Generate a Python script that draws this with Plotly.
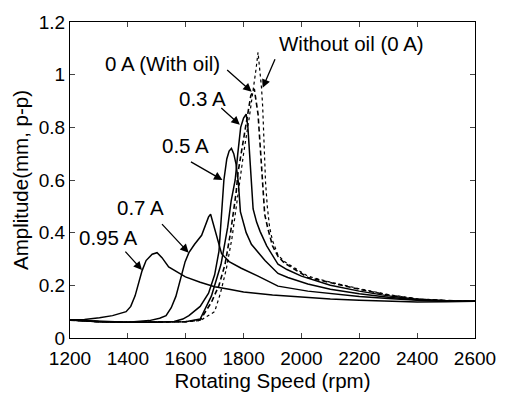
import plotly.graph_objects as go

# ---- data ----
x_095 = [1200, 1250, 1302, 1347, 1394, 1410, 1425, 1438, 1449, 1463, 1484, 1501, 1518, 1541, 1570, 1599,
         1650, 1700, 1750, 1800, 1900, 2000, 2100, 2200, 2300, 2400, 2500, 2600]
y_095 = [0.068, 0.07, 0.077, 0.085, 0.1, 0.12, 0.16, 0.21, 0.255, 0.294, 0.318, 0.324, 0.305, 0.27, 0.25, 0.232,
         0.212, 0.195, 0.185, 0.175, 0.163, 0.155, 0.148, 0.143, 0.14, 0.137, 0.138, 0.14]

x_07 = [1200, 1300, 1400, 1474, 1510, 1532, 1550, 1566, 1583, 1598, 1611, 1630, 1655, 1670, 1679, 1686, 1696,
        1710, 1724, 1750, 1792, 1850, 1919, 2022, 2100, 2200, 2300, 2400, 2500, 2600]
y_07 = [0.068, 0.063, 0.06, 0.066, 0.075, 0.085, 0.115, 0.158, 0.23, 0.29, 0.324, 0.355, 0.39, 0.43, 0.46, 0.47, 0.43,
        0.37, 0.32, 0.29, 0.265, 0.235, 0.197, 0.178, 0.168, 0.158, 0.15, 0.143, 0.14, 0.14]

x_05 = [1200, 1300, 1400, 1500, 1560, 1590, 1611, 1650, 1679, 1700, 1715, 1725, 1732, 1742, 1750, 1758, 1766,
        1774, 1782, 1789, 1809, 1827, 1874, 1919, 1953, 2022, 2100, 2200, 2300, 2400, 2500, 2600]
y_05 = [0.068, 0.062, 0.06, 0.06, 0.063, 0.072, 0.085, 0.12, 0.17, 0.24, 0.33, 0.47, 0.6, 0.68, 0.71, 0.72, 0.7,
        0.66, 0.59, 0.48, 0.4, 0.356, 0.294, 0.245, 0.23, 0.205, 0.185, 0.168, 0.155, 0.145, 0.141, 0.14]

x_03 = [1200, 1300, 1400, 1500, 1600, 1650, 1689, 1722, 1745, 1757, 1771, 1780, 1790, 1800, 1809, 1815, 1820,
        1826, 1833, 1845, 1857, 1880, 1919, 1950, 2000, 2100, 2200, 2300, 2400, 2500, 2600]
y_03 = [0.068, 0.062, 0.06, 0.06, 0.062, 0.072, 0.16, 0.28, 0.42, 0.52, 0.6, 0.7, 0.8, 0.835, 0.85, 0.8, 0.7,
        0.59, 0.49, 0.44, 0.405, 0.35, 0.28, 0.26, 0.235, 0.2, 0.178, 0.16, 0.147, 0.141, 0.14]

x_0oil = [1200, 1300, 1400, 1500, 1600, 1650, 1689, 1715, 1736, 1755, 1774, 1781, 1795, 1804, 1815, 1825, 1837,
          1850, 1858, 1866, 1873, 1883, 1900, 1919, 1941, 2022, 2100, 2200, 2300, 2400, 2500, 2600]
y_0oil = [0.068, 0.062, 0.06, 0.06, 0.062, 0.068, 0.136, 0.2, 0.28, 0.4, 0.55, 0.63, 0.72, 0.78, 0.86, 0.92, 0.946,
          0.85, 0.72, 0.59, 0.47, 0.42, 0.35, 0.31, 0.285, 0.23, 0.21, 0.185, 0.163, 0.148, 0.142, 0.14]

x_nooil = [1200, 1300, 1400, 1500, 1600, 1650, 1700, 1720, 1740, 1760, 1780, 1800, 1820, 1835, 1843, 1850,
           1857, 1862, 1866, 1870, 1876, 1882, 1890, 1900, 1919, 1941, 2022, 2100, 2200, 2300, 2400, 2500, 2600]
y_nooil = [0.068, 0.062, 0.06, 0.06, 0.062, 0.066, 0.1, 0.17, 0.26, 0.38, 0.55, 0.7, 0.84, 0.95, 1.02, 1.085,
           1.02, 0.95, 0.88, 0.75, 0.59, 0.5, 0.42, 0.37, 0.315, 0.29, 0.235, 0.212, 0.187, 0.165, 0.149, 0.142, 0.14]

x_ticks = [1200, 1400, 1600, 1800, 2000, 2200, 2400, 2600]
y_ticks = [0, 0.2, 0.4, 0.6, 0.8, 1, 1.2]
y_ticklabels = ["0", "0.2", "0.4", "0.6", "0.8", "1", "1.2"]

label_texts = ["0.95 A", "0.7 A", "0.5 A", "0.3 A", "0 A (With oil)", "Without oil (0 A)"]
label_pos_x = [1330, 1444, 1598, 1658, 1519, 2173]
label_pos_y = [0.383, 0.497, 0.731, 0.911, 1.044, 1.117]
arrow_tip_x = [1449, 1610, 1727, 1787, 1828, 1866]
arrow_tip_y = [0.258, 0.324, 0.6, 0.81, 0.935, 0.95]
arrow_tail_dx = [-18, -28, -33, -20, -26, 13]
arrow_tail_dy = [-20, -30, -19, -18, -23, -30]

FONT = "Liberation Sans, Arial, Helvetica, sans-serif"

fig = go.Figure()
solid = dict(color="black", width=1.5)
for xs, ys in [(x_095, y_095), (x_07, y_07), (x_05, y_05), (x_03, y_03)]:
    fig.add_trace(go.Scatter(x=xs, y=ys, mode="lines", line=solid, showlegend=False))
fig.add_trace(go.Scatter(x=x_0oil, y=y_0oil, mode="lines",
                         line=dict(color="black", width=1.6, dash="5px,3px"), showlegend=False))
fig.add_trace(go.Scatter(x=x_nooil, y=y_nooil, mode="lines",
                         line=dict(color="black", width=1.2, dash="dot"), showlegend=False))

annotations = []
for t, tx, ty in zip(label_texts, label_pos_x, label_pos_y):
    annotations.append(dict(x=tx, y=ty, xref="x", yref="y", text=t, showarrow=False,
                            font=dict(family=FONT, size=20.5, color="black")))
for px_, py_, dx, dy in zip(arrow_tip_x, arrow_tip_y, arrow_tail_dx, arrow_tail_dy):
    annotations.append(dict(x=px_, y=py_, xref="x", yref="y", text="", showarrow=True,
                            ax=dx, ay=dy, arrowhead=2, arrowsize=1.3, arrowwidth=1.3,
                            arrowcolor="black", standoff=0, startstandoff=0))

fig.update_layout(
    width=508, height=395,
    margin=dict(l=70, r=28, t=14, b=55),
    paper_bgcolor="white", plot_bgcolor="white",
    font=dict(family=FONT, size=19, color="black"),
    annotations=annotations,
    xaxis=dict(range=[1200, 2600], tickvals=x_ticks, ticks="inside", ticklen=5,
               showline=True, mirror="ticks", linecolor="black", linewidth=1,
               showgrid=False, zeroline=False, tickfont=dict(size=19), ticklabelstandoff=3,
               title=dict(text="Rotating Speed (rpm)", font=dict(size=20.5), standoff=0)),
    yaxis=dict(range=[0, 1.2], tickvals=y_ticks, ticktext=y_ticklabels, ticks="inside", ticklen=5,
               showline=True, mirror="ticks", linecolor="black", linewidth=1,
               showgrid=False, zeroline=False, tickfont=dict(size=19),
               title=dict(text="Amplitude(mm, p-p)", font=dict(size=20.5), standoff=4)),
)

fig.write_html("out.html", config={"displayModeBar": False},
               post_script="document.body.style.margin='0';document.body.style.overflow='hidden';")
